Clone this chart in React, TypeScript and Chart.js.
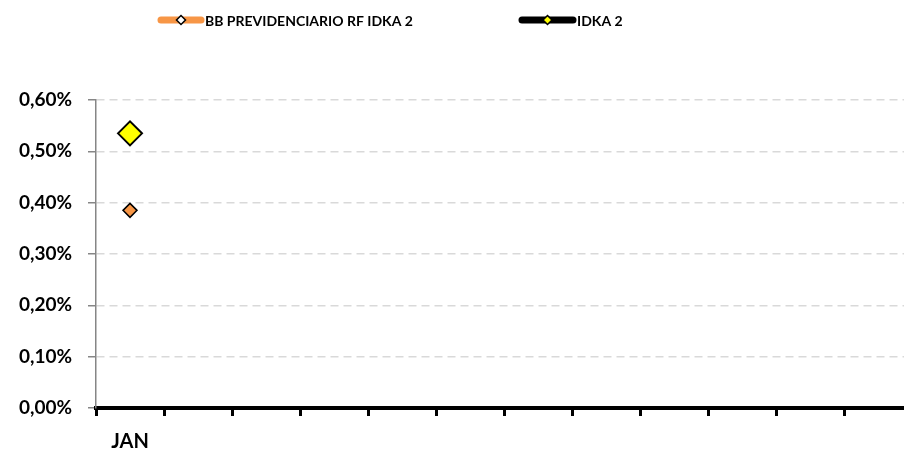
import { useEffect, useRef } from "react";
import { Chart, registerables } from "chart.js";

Chart.register(...registerables);

const categories = ["JAN", "", "", "", "", "", "", "", "", "", "", ""];
const seriesNames = ["BB PREVIDENCIARIO RF IDKA 2", "IDKA 2"];
const bbValues: (number | null)[] = [0.385, null, null, null, null, null, null, null, null, null, null, null];
const idkaValues: (number | null)[] = [0.535, null, null, null, null, null, null, null, null, null, null, null];
const yTicks = [0, 0.1, 0.2, 0.3, 0.4, 0.5, 0.6];

const FONT = 'Lato, "Open Sans", sans-serif';
const ORANGE = "#F79646";
const YELLOW = "#FFFF00";

const legendPlugin = {
  id: "customLegend",
  afterDraw(chart: any) {
    const ctx = chart.ctx;
    const items = [
      { x1: 161, x2: 201, line: ORANGE, fill: "#FFFFFF", r: 4.5, text: seriesNames[0] },
      { x1: 522, x2: 573, line: "#000000", fill: YELLOW, r: 4.5, text: seriesNames[1] },
    ];
    const y = 20;
    ctx.save();
    for (const it of items) {
      ctx.beginPath();
      ctx.strokeStyle = it.line;
      ctx.lineWidth = 7;
      ctx.lineCap = "round";
      ctx.moveTo(it.x1, y);
      ctx.lineTo(it.x2, y);
      ctx.stroke();
      const cx = (it.x1 + it.x2) / 2;
      ctx.beginPath();
      ctx.moveTo(cx, y - it.r);
      ctx.lineTo(cx + it.r, y);
      ctx.lineTo(cx, y + it.r);
      ctx.lineTo(cx - it.r, y);
      ctx.closePath();
      ctx.fillStyle = it.fill;
      ctx.fill();
      ctx.lineWidth = 1.5;
      ctx.lineCap = "butt";
      ctx.strokeStyle = "#000000";
      ctx.stroke();
      ctx.fillStyle = "#000000";
      ctx.font = `bold 14px ${FONT}`;
      ctx.textBaseline = "middle";
      ctx.textAlign = "left";
      ctx.fillText(it.text, it.x2 + 4, y + 1);
    }
    ctx.restore();
  },
};

export default function App() {
  const ref = useRef<HTMLCanvasElement | null>(null);
  useEffect(() => {
    if (!ref.current) return;
    const chart = new Chart(ref.current, {
      type: "line",
      data: {
        labels: categories,
        datasets: [
          {
            label: seriesNames[0],
            data: bbValues,
            borderColor: ORANGE,
            backgroundColor: ORANGE,
            borderWidth: 4,
            pointStyle: "rectRot",
            pointRadius: 7,
            pointBackgroundColor: ORANGE,
            pointBorderColor: "#000000",
            pointBorderWidth: 1.5,
          },
          {
            label: seriesNames[1],
            data: idkaValues,
            borderColor: "#000000",
            backgroundColor: YELLOW,
            borderWidth: 4,
            pointStyle: "rectRot",
            pointRadius: 12,
            pointBackgroundColor: YELLOW,
            pointBorderColor: "#000000",
            pointBorderWidth: 2,
          },
        ],
      },
      options: {
        responsive: false,
        animation: false,
        layout: { padding: { top: 100, left: 0, right: 0, bottom: 0 } },
        plugins: { legend: { display: false }, tooltip: { enabled: false } },
        scales: {
          x: {
            type: "category",
            offset: true,
            grid: {
              offset: true,
              drawOnChartArea: false,
              drawTicks: true,
              tickLength: 8,
              tickColor: "#000000",
              tickWidth: 3,
            },
            border: { display: true, color: "#000000", width: 4 },
            ticks: {
              color: "#000000",
              font: { family: FONT, size: 20, weight: "bold" },
              padding: 14,
              maxRotation: 0,
              autoSkip: false,
            },
            afterFit: (s: any) => {
              s.height = 46;
            },
          },
          y: {
            min: 0,
            max: 0.6,
            afterBuildTicks: (s: any) => {
              s.ticks = yTicks.map((v) => ({ value: v }));
            },
            ticks: {
              color: "#000000",
              font: { family: FONT, size: 19, weight: "bold" },
              padding: 16,
              callback: (v: any) => Number(v).toFixed(2).replace(".", ",") + "%",
            },
            grid: {
              color: "#D9D9D9",
              lineWidth: 1.5,
              tickColor: "#868686",
              tickLength: 8,
            },
            border: { display: true, color: "#868686", width: 1.5, dash: [8, 5] },
            afterFit: (s: any) => {
              s.width = 96;
            },
          },
        },
      },
      plugins: [legendPlugin],
    });
    return () => chart.destroy();
  }, []);
  return (
    <div style={{ position: "fixed", left: 0, top: 0, width: 904, height: 454, overflow: "hidden", background: "#fff" }}>
      <canvas ref={ref} width={926} height={454} style={{ width: 926, height: 454, display: "block" }} />
    </div>
  );
}
